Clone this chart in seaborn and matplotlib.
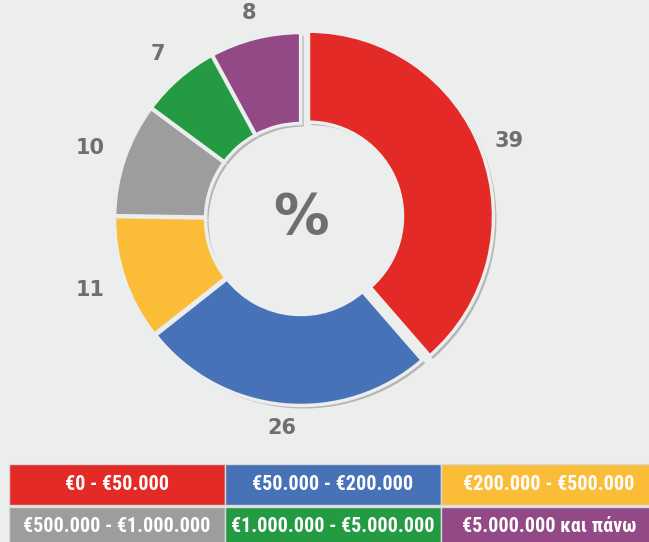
import numpy as np
import matplotlib
matplotlib.use("Agg")
import matplotlib.pyplot as plt
import seaborn as sns
from matplotlib.patches import Rectangle

# data
categories = ["€0 - €50.000", "€50.000 - €200.000", "€200.000 - €500.000",
              "€500.000 - €1.000.000", "€1.000.000 - €5.000.000", "€5.000.000 και πάνω"]
values = [39, 26, 11, 10, 7, 8]
colors = ["#e32a27", "#4872b8", "#fbbd38", "#9c9d9c", "#249a42", "#924985"]

bg = "#eceeed"
sns.set_style("white")
plt.rcParams["font.family"] = ["DejaVu Sans"]

fig = plt.figure(figsize=(6.49, 5.42), dpi=100, facecolor=bg)
ax = fig.add_axes([0, 0, 1, 1])
ax.set_facecolor(bg)

cx, cy = 301, 542 - 219
R = 185
hole = 94
explode = [8, 1.5, 1.5, 1.5, 1.5, 1.5]

# shadow
sh, _ = ax.pie(values, radius=R, center=(cx + 3, cy - 3), explode=explode,
               startangle=90, counterclock=False, colors=["#b4b5b4"] * 6,
               wedgeprops=dict(width=R - hole, linewidth=0), frame=True)
for w in sh:
    w.set_zorder(1)

wedges, _ = ax.pie(values, radius=R, center=(cx, cy), explode=explode,
                   startangle=90, counterclock=False, colors=colors,
                   wedgeprops=dict(width=R - hole, edgecolor=bg, linewidth=2.5),
                   frame=True)
for w in wedges:
    w.set_zorder(2)

ax.set_xlim(0, 649)
ax.set_ylim(0, 542)
ax.set_aspect("equal")
ax.axis("off")

for w, v in zip(wedges, values):
    th = np.deg2rad((w.theta1 + w.theta2) / 2)
    d = R * 1.13 + 14 * abs(np.cos(th))
    ax.text(cx + d * np.cos(th), cy + d * np.sin(th), str(v), ha="center",
            va="center", fontsize=15, fontweight="bold", color="#6f6f6f", zorder=3)

ax.text(cx, cy + 1, "%", ha="center", va="center", fontsize=40,
        fontweight="bold", color="#6f6f6f", zorder=3)

# legend boxes
col_x = [9, 225, 441]
box_w = 216
row_y = [542 - 505, 542 - 548]
box_h = 41
fam = ["Roboto Condensed", "Liberation Sans Narrow", "Roboto", "DejaVu Sans"]
renderer = fig.canvas.get_renderer()
texts = []
for i, (cat, c) in enumerate(zip(categories, colors)):
    r, k = divmod(i, 3)
    x0, y0 = col_x[k], row_y[r]
    ax.add_patch(Rectangle((x0, y0), box_w, box_h, facecolor=c,
                           edgecolor="#d8d8d8", linewidth=1, zorder=2))
    t = ax.text(x0 + box_w / 2, 542 - (485 if r == 0 else 526), cat, ha="center",
                va="center", fontsize=16, fontweight="bold", color="white",
                family=fam, zorder=3)
    texts.append(t)

# one common size, small enough for the widest label
fs = 16
while max(t.get_window_extent(renderer).width for t in texts) > box_w - 12 and fs > 8:
    fs -= 0.5
    for t in texts:
        t.set_fontsize(fs)

fig.savefig("out.png", dpi=100, facecolor=bg)
